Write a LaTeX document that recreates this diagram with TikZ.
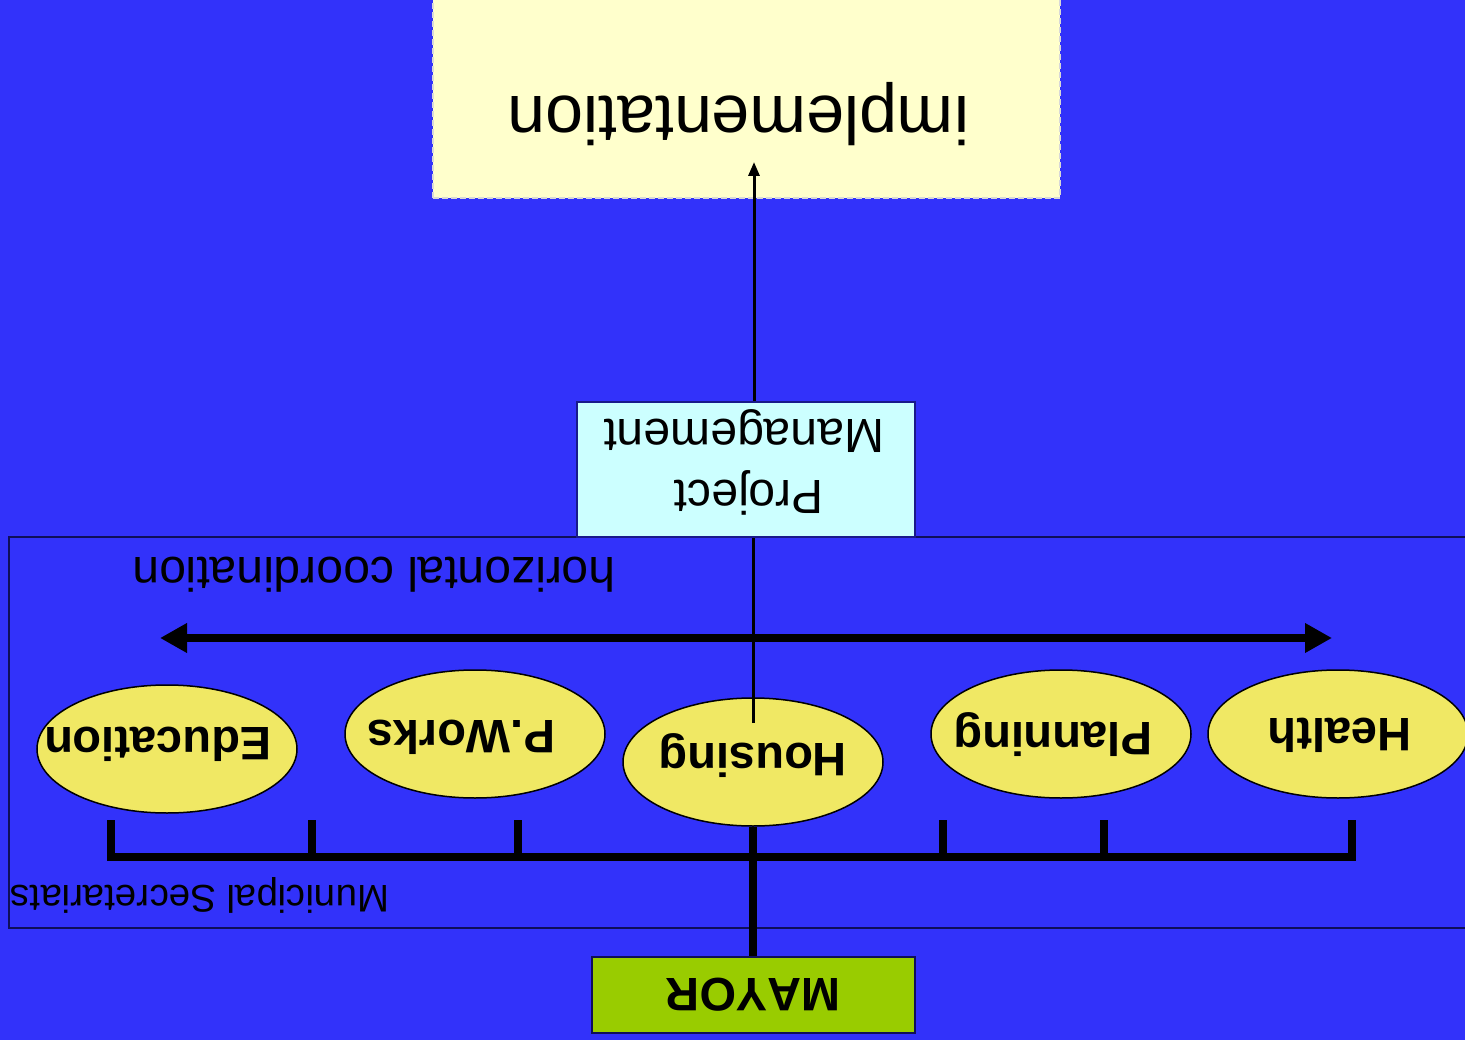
\documentclass[tikz,border=0pt]{standalone}
\usepackage{fontspec}
\setmainfont[Kerning=Off]{Liberation Sans}
\usepackage{graphicx}
\usetikzlibrary{shapes.geometric,arrows.meta}
\definecolor{bgblue}{RGB}{50,50,250}
\definecolor{implyellow}{RGB}{255,255,204}
\definecolor{pmcyan}{RGB}{204,255,255}
\definecolor{ellyellow}{RGB}{240,232,100}
\definecolor{mayorgreen}{RGB}{153,204,0}
\definecolor{navyline}{RGB}{15,15,90}
\definecolor{dashgray}{RGB}{215,215,215}
\begin{document}
\begin{tikzpicture}[x=1pt,y=-1pt,
  implbox/.style={draw=dashgray, dashed, dash pattern=on 6pt off 3pt, line width=2pt, fill=implyellow, inner sep=0pt},
  pmbox/.style={draw=navyline!70!bgblue, line width=1.5pt, fill=pmcyan, inner sep=0pt},
  framebox/.style={draw=navyline, line width=2pt, inner sep=0pt},
  ell/.style={ellipse, draw=black, line width=1.5pt, fill=ellyellow, minimum width=260pt, minimum height=128pt, inner sep=0pt},
  mayorbox/.style={draw=navyline, line width=2pt, fill=mayorgreen, inner sep=0pt},
  lbl/.style={anchor=base, inner sep=0pt, text=black},
  elltxt/.style={lbl, font=\fontsize{47}{56}\selectfont\bfseries},
  bar/.style={line width=8.5pt, draw=black},
  thickline/.style={line width=8pt, draw=black},
  thinline/.style={line width=3pt, draw=black},
  bigarrow/.style={line width=8.5pt, draw=black, {Triangle[length=27pt,width=28pt]}-{Triangle[length=27pt,width=28pt]}},
  smallarrow/.style={line width=3pt, draw=black, -{Triangle[length=14pt,width=11pt]}}
]
\useasboundingbox (0,0) rectangle (1465,1040);
\clip (0,0) rectangle (1465,1040);
\fill[bgblue] (0,0) rectangle (1465,1040);

% implementation box
\node[implbox, minimum width=627pt, minimum height=240pt] (impl) at (746.5,78) {};
\node[lbl, font=\fontsize{68}{80}\selectfont] (impltxt) at (738.5,97) {\rotatebox{180}{implementation}};

% municipal frame
\node[framebox, minimum width=1480pt, minimum height=391pt] (muni) at (748.5,732.5) {};
\node[lbl, font=\fontsize{38.5}{46}\selectfont] (munitxt) at (200,885) {\rotatebox{180}{Municipal Secretariats}};
\node[lbl, font=\fontsize{48}{58}\selectfont] (hctxt) at (374,557) {\rotatebox{180}{horizontal coordination}};

% project management
\node[pmbox, minimum width=338pt, minimum height=135pt] (pm) at (746,469.5) {};
\node[lbl, font=\fontsize{48}{58}\selectfont] (pmtxt1) at (744,420) {\rotatebox{180}{Management}};
\node[lbl, font=\fontsize{48}{58}\selectfont] (pmtxt2) at (749,480) {\rotatebox{180}{Project}};

% mayor
\node[mayorbox, minimum width=323pt, minimum height=76pt] (mayor) at (753.5,995) {};
\node[lbl, font=\fontsize{47}{56}\selectfont\bfseries] (mayortxt) at (753.5,978) {\rotatebox{180}{MAYOR}};

% double arrow
\coordinate (hl) at (160,638);
\coordinate (hr) at (1332,638);
\draw[bigarrow] (hl) -- (hr);

% bracket
\coordinate (bl) at (111,820);
\coordinate (br) at (1352,820);
\draw[bar] (bl) -- (111,857) -- (1352,857) -- (br);
\foreach \tx/\tn in {312/t1,518/t2,943/t3,1104/t4} {
  \coordinate (\tn) at (\tx,820);
  \draw[bar] (\tn) -- (\tx,857);
}

% secretariat ellipses
\node[ell] (edu) at (167,749) {};
\node[elltxt] (edutxt) at (158,727) {\rotatebox{180}{Education}};
\node[ell] (pw) at (475,734) {};
\node[elltxt] (pwtxt) at (461,720) {\rotatebox{180}{P.Works}};
\node[ell] (hs) at (753,762) {};
\node[elltxt] (hstxt) at (753,743) {\rotatebox{180}{Housing}};
\node[ell] (pl) at (1061,734) {};
\node[elltxt] (pltxt) at (1053,722) {\rotatebox{180}{Planning}};
\node[ell] (he) at (1338,734) {};
\node[elltxt] (hetxt) at (1340,718) {\rotatebox{180}{Health}};

% connectors
\draw[thickline] (hs.south) -- (hs.south |- mayor.north);
\coordinate (hsin) at (753,723);
\draw[thinline] (hsin) -- (hsin |- pm.south);
\coordinate (impltip) at (754,162);
\draw[smallarrow] (impltip |- pm.north) -- (impltip);
\end{tikzpicture}
\end{document}
